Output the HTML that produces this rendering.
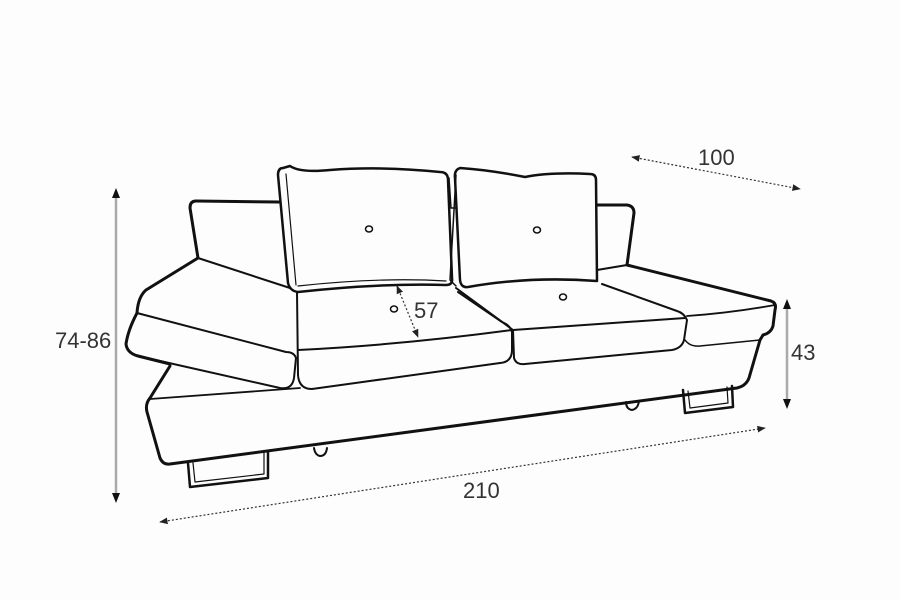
<!DOCTYPE html>
<html><head><meta charset="utf-8"><style>
html,body{margin:0;padding:0;background:#fff;}
svg{display:block}
text{font-family:"Liberation Sans",sans-serif;fill:#333;}
</style></head><body>
<svg width="900" height="600" viewBox="0 0 900 600" xmlns="http://www.w3.org/2000/svg">
<rect width="900" height="600" fill="#fdfdfd"/>
<defs>
<marker id="ah" viewBox="0 0 10 10" refX="9" refY="5" markerWidth="7" markerHeight="7" orient="auto-start-reverse"><path d="M0,1 L10,5 L0,9z" fill="#222"/></marker>
</defs>
<g fill="none" stroke="#111" stroke-linecap="round" stroke-linejoin="round">
<path d="M279,202 L196,201 Q190,201 190,208 L198,258" stroke-width="3"/>
<path d="M198,258 L146,290 Q138,297 137,313" stroke-width="3"/>
<path d="M198,258 L290,288" stroke-width="2"/>
<path d="M137,313 Q128,330 126,344 Q127,353 138,356 L280,388 Q292,390 294,378 L296,358 Q294,352 286,352 L137,313" stroke-width="2"/>
<path d="M137,313 Q128,330 126,344 Q127,353 138,356 L170,364" stroke-width="3"/>
<!-- base -->
<path d="M170,366 L150,398 Q145,404 147,412 L160,458 Q163,465 170,464 L737,388 Q746,386 749,378 L760,340" stroke-width="3"/>
<path d="M150,399 L300,388" stroke-width="1.8"/>
<!-- seat 1 -->
<path d="M297,292 L298,375 Q299,389 312,389 L500,363 Q512,362 512,350 L512,332 Q510,325 502,322 L458,292" stroke-width="2"/>
<path d="M298,350 Q400,345 512,330" stroke-width="2"/>
<!-- seat 2 -->
<path d="M456,288 L513,330 L514,358 Q516,365 525,364 L672,350 Q682,348 684,340 L687,320 Q684,313 677,311 L602,284" stroke-width="2"/>
<path d="M513,330 L685,318" stroke-width="2"/>
<!-- seat 3 / right arm -->
<path d="M597,270 L627,265" stroke-width="2"/>
<path d="M627,265 L771,301 Q777,303 775,310 L773,326 Q771,333 763,335 L760,340" stroke-width="3"/>
<path d="M687,316 Q730,313 775,305" stroke-width="1.8"/>
<path d="M685,340 Q690,347 700,346 Q730,343 760,340" stroke-width="1.5"/>
<!-- right armrest back -->
<path d="M597,205 L627,205 Q634,206 634,213 L627,265" stroke-width="3"/>
<!-- pillow 1 -->
<path d="M283,168 Q278,168 278,175 L288,283 Q290,291 298,292 Q380,283 446,285 Q453,285 452,278 L448,180 Q448,172 440,172 Q380,166 330,170 Q300,173 290,166 Z" stroke-width="2.5"/>
<path d="M286,174 L296,285" stroke-width="1.2"/>
<path d="M298,286 Q380,277 446,281" stroke-width="1.2"/>
<path d="M449,178 L451,208 L457,208" stroke-width="1.5"/>
<!-- pillow 2 -->
<path d="M460,168 Q454,170 455,178 L460,280 Q461,288 468,287 Q530,276 597,281 L596,180 Q596,174 590,174 Q550,172 525,177 Q490,170 460,168 Z" stroke-width="2.5"/>
<path d="M456,175 L450,280 L456,286" stroke-width="1.5"/>
<!-- buttons -->
<ellipse cx="369" cy="229" rx="3.5" ry="3" stroke-width="1.5"/>
<ellipse cx="537" cy="230" rx="3.5" ry="3" stroke-width="1.5"/>
<ellipse cx="563" cy="297" rx="3.5" ry="3" stroke-width="1.5"/>
<ellipse cx="394" cy="309" rx="3.5" ry="3" stroke-width="1.5"/>
<!-- legs -->
<path d="M188,463 L190,487 L268,478 L268,452" stroke-width="2.5"/>
<path d="M193,463 L195,482 L264,474 L264,453" stroke-width="1.2"/>
<path d="M683,390 L685,413 L733,407 L732,386" stroke-width="2.5"/>
<path d="M688,391 L690,408 L728,403 L727,387" stroke-width="1.2"/>
<path d="M314,448 Q315,455 320,456 Q326,456 327,448" stroke-width="2"/>
<path d="M626,402 Q626,409 632,410 Q638,409 639,401" stroke-width="2"/>
</g>
<g stroke-width="1.2">
<line x1="116" y1="192" x2="116" y2="500" stroke="#aaa" stroke-width="2.5"/>
<path d="M116,188 L112,198 L120,198z M116,503 L112,493 L120,493z" fill="#111"/>
<line x1="787" y1="302" x2="787" y2="406" stroke="#aaa" stroke-width="2.5"/>
<path d="M787,299 L783,309 L791,309z M787,409 L783,399 L791,399z" fill="#111"/>
<line x1="632" y1="157" x2="800" y2="189" stroke="#333" stroke-dasharray="2,2" marker-start="url(#ah)" marker-end="url(#ah)"/>
<line x1="160" y1="522" x2="765" y2="428" stroke="#333" stroke-dasharray="2,2" marker-start="url(#ah)" marker-end="url(#ah)"/>
<line x1="397" y1="286" x2="418" y2="337" stroke="#333" stroke-dasharray="2,2" marker-start="url(#ah)" marker-end="url(#ah)"/>
</g>
<text x="55" y="348" font-size="22">74-86</text>
<text x="791" y="360" font-size="22">43</text>
<text x="698" y="165" font-size="22">100</text>
<text x="463" y="498" font-size="22">210</text>
<text x="414" y="318" font-size="22">57</text>
</svg>
</body></html>
